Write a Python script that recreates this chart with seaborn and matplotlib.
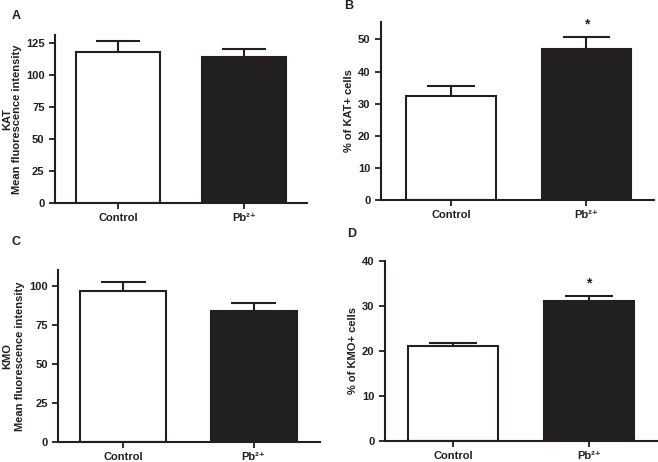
import pandas as pd
import matplotlib.pyplot as plt
import seaborn as sns

# Group names and values (mean, upper error = SEM)
groups = ["Control", "Pb²⁺"]

kat_mfi = [118.0, 113.5]
kat_mfi_err = [8.0, 6.5]

kat_pct = [32.4, 46.9]
kat_pct_err = [3.1, 3.7]

kmo_mfi = [96.8, 83.6]
kmo_mfi_err = [5.6, 5.1]

kmo_pct = [21.0, 31.1]
kmo_pct_err = [0.7, 1.0]

sns.set_style("ticks")
plt.rcParams["font.family"] = ["Liberation Sans", "DejaVu Sans"]
plt.rcParams["font.weight"] = "bold"

fig = plt.figure(figsize=(6.58, 4.62), dpi=100)

# name, position, values, errors, ylim, yticks, ylabel, protein, star, xlim
panels = [
    ("A", [0.0836, 0.5606, 0.383, 0.3636], kat_mfi, kat_mfi_err, 131,
     [0, 25, 50, 75, 100, 125], "Mean fluorescence intensity", "KAT", False, (-0.5, 1.5)),
    ("B", [0.5786, 0.5664, 0.4153, 0.3866], kat_pct, kat_pct_err, 55.5,
     [0, 10, 20, 30, 40, 50], "% of KAT+ cells", None, True, (-0.52, 1.5)),
    ("C", [0.0886, 0.0426, 0.3977, 0.373], kmo_mfi, kmo_mfi_err, 110,
     [0, 25, 50, 75, 100], "Mean fluorescence intensity", "KMO", False, (-0.5, 1.51)),
    ("D", [0.5851, 0.0455, 0.4129, 0.3902], kmo_pct, kmo_pct_err, 40,
     [0, 10, 20, 30, 40], "% of KMO+ cells", None, True, (-0.5, 1.5)),
]

letter_pos = {"A": (0.024, 0.965), "B": (0.530, 0.988), "C": (0.024, 0.476), "D": (0.535, 0.493)}

for name, pos, vals, errs, ytop, yticks, ylabel, protein, star, xlim in panels:
    ax = fig.add_axes(pos)
    df = pd.DataFrame({"group": groups, "value": vals})
    sns.barplot(data=df, x="group", y="value", hue="group", legend=False,
                palette=["white", "#231f20"], edgecolor="#231f20", linewidth=1.5,
                width=0.66, errorbar=None, ax=ax)
    # upward-only error bars, GraphPad style
    for i, (v, e) in enumerate(zip(vals, errs)):
        ax.vlines(i, v, v + e, color="#231f20", lw=1.5, zorder=1)
        ax.hlines(v + e, i - 0.175, i + 0.175, color="#231f20", lw=1.5, zorder=1)
        if star and i == 1:
            ax.text(i, v + e + ytop * 0.035, "*", ha="center", va="bottom",
                    fontsize=10, color="#231f20")
    ax.set_xlim(*xlim)
    ax.set_ylim(0, ytop)
    ax.set_yticks(yticks)
    ax.set_xlabel("")
    ax.set_ylabel(ylabel, fontsize=8, fontweight="bold", color="#231f20", labelpad=3)
    if protein:
        fig.text(0.011, pos[1] + pos[3] / 2, protein, rotation=90, fontsize=8,
                 fontweight="bold", color="#231f20", ha="center", va="center")
    ax.tick_params(axis="both", labelsize=8, width=1.3, length=4, color="#231f20",
                   labelcolor="#231f20")
    ax.tick_params(axis="x", pad=3)
    for lab in ax.get_xticklabels() + ax.get_yticklabels():
        lab.set_fontweight("bold")
    sns.despine(ax=ax)
    for sp in ["left", "bottom"]:
        ax.spines[sp].set_linewidth(1.5)
        ax.spines[sp].set_color("#231f20")
    fig.text(*letter_pos[name], name, fontsize=9, fontweight="bold",
             ha="center", va="center", color="#231f20")

fig.savefig("out.png", dpi=100)
